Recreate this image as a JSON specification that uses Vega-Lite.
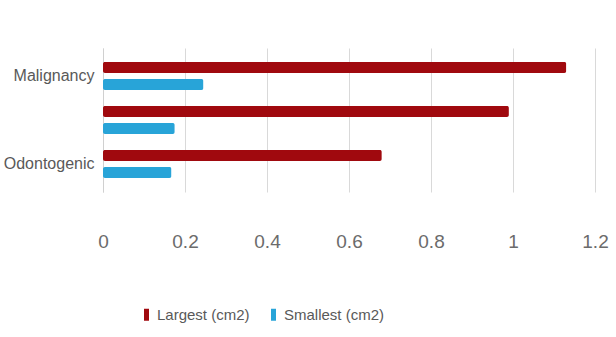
{
  "$schema": "https://vega.github.io/schema/vega-lite/v6.json",
  "autosize": "none",
  "width": 492,
  "height": 144,
  "padding": {"left": 103, "top": 48, "right": 21, "bottom": 145},
  "background": "white",
  "config": {
    "font": "Liberation Sans, sans-serif",
    "view": {"stroke": null}
  },
  "data": {
    "values": [
      {"group": "Malignancy", "measure": "Largest (cm2)", "area": 1.13},
      {"group": "Malignancy", "measure": "Smallest (cm2)", "area": 0.245},
      {"group": "Benign", "measure": "Largest (cm2)", "area": 0.99},
      {"group": "Benign", "measure": "Smallest (cm2)", "area": 0.175},
      {"group": "Odontogenic", "measure": "Largest (cm2)", "area": 0.68},
      {"group": "Odontogenic", "measure": "Smallest (cm2)", "area": 0.167}
    ]
  },
  "mark": {"type": "bar", "cornerRadius": 2},
  "encoding": {
    "y": {
      "field": "group",
      "type": "nominal",
      "sort": ["Malignancy", "Benign", "Odontogenic"],
      "scale": {"paddingInner": 0.36, "paddingOuter": 0.316},
      "axis": {
        "title": null,
        "values": ["Malignancy", "Odontogenic"],
        "ticks": false,
        "domain": true,
        "domainColor": "#d0d0d0",
        "labelFontSize": 16,
        "labelColor": "#595959",
        "labelPadding": 9
      }
    },
    "yOffset": {
      "field": "measure",
      "type": "nominal",
      "sort": ["Largest (cm2)", "Smallest (cm2)"],
      "scale": {"paddingInner": 0.35, "paddingOuter": 0}
    },
    "x": {
      "field": "area",
      "type": "quantitative",
      "scale": {"domain": [0, 1.2], "nice": false},
      "axis": {
        "title": null,
        "values": [0, 0.2, 0.4, 0.6, 0.8, 1, 1.2],
        "format": "~g",
        "ticks": false,
        "domain": false,
        "grid": true,
        "gridColor": "#d9d9d9",
        "labelFontSize": 19,
        "labelColor": "#6b6b6b",
        "labelPadding": 40,
        "labelFlush": false
      }
    },
    "color": {
      "field": "measure",
      "type": "nominal",
      "sort": ["Largest (cm2)", "Smallest (cm2)"],
      "scale": {"range": ["#a0090e", "#28a4d8"]},
      "legend": {
        "title": null,
        "orient": "none",
        "direction": "horizontal",
        "legendX": 36,
        "legendY": 259,
        "symbolType": "M-0.42,-1H0.42V1H-0.42Z",
        "symbolSize": 144,
        "symbolStrokeWidth": 0,
        "labelFontSize": 15,
        "labelColor": "#595959",
        "labelOffset": 3,
        "columnPadding": 16
      }
    }
  }
}
